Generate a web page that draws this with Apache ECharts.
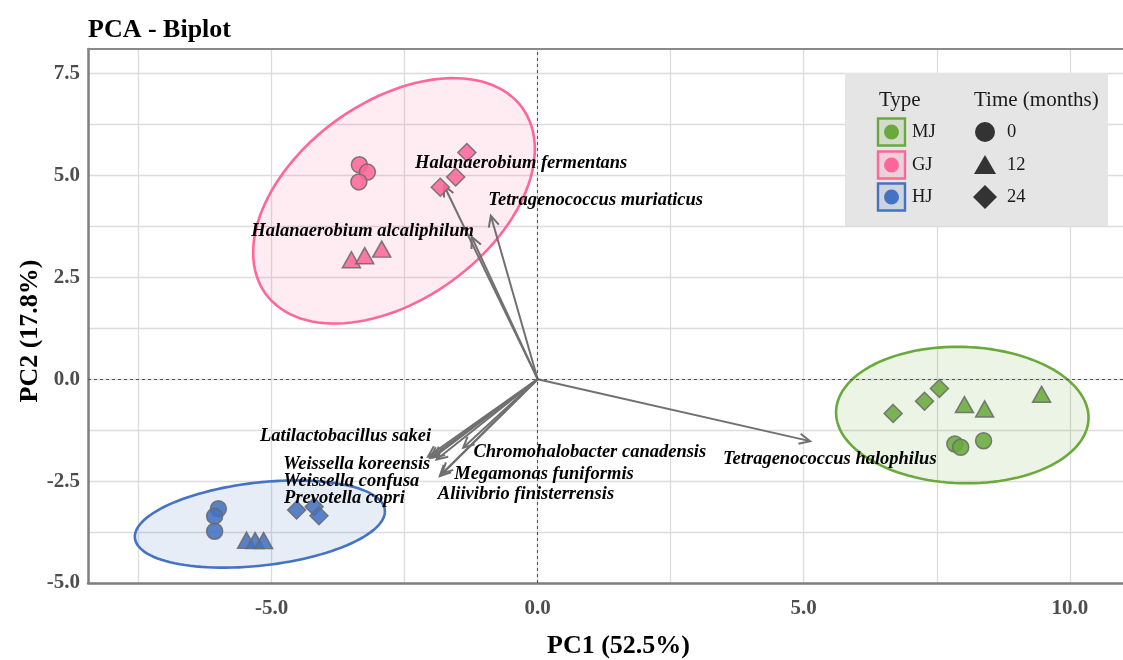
<!DOCTYPE html>
<html><head><meta charset="utf-8">
<script src="https://cdn.jsdelivr.net/npm/echarts@6/dist/echarts.min.js"></script>
<style>html,body{margin:0;padding:0;background:#fff}#c{width:1123px;height:660px}</style>
</head><body><div id="c"></div>
<script>
const SERIF = '"Liberation Serif","Times New Roman",serif';

// ---- categories ----
const groups = ['MJ', 'GJ', 'HJ'];
const groupColors = ['#6AAA3C', '#FF6699', '#4472C4'];
const timeLevels = ['0', '12', '24'];
const timeSymbols = ['circle', 'triangle', 'diamond'];

// ---- sample scores (PC1, PC2), time index per sample ----
const sampleTimeIdx = [0, 0, 0, 1, 1, 1, 2, 2, 2];
const mjPC1 = [7.84, 7.95, 8.38, 8.02, 8.40, 9.47, 6.68, 7.27, 7.55];
const mjPC2 = [-1.59, -1.67, -1.51, -0.62, -0.73, -0.37, -0.84, -0.54, -0.23];
const gjPC1 = [-3.35, -3.20, -3.36, -3.50, -3.25, -2.93, -1.33, -1.54, -1.83];
const gjPC2 = [5.26, 5.08, 4.84, 2.93, 3.03, 3.19, 5.56, 4.96, 4.71];
const hjPC1 = [-6.00, -6.07, -6.07, -5.47, -5.31, -5.15, -4.53, -4.20, -4.11];
const hjPC2 = [-3.18, -3.36, -3.73, -3.95, -3.96, -3.96, -3.21, -3.13, -3.35];

// ---- group ellipses: centre and semi-axis vectors (data units) ----
const ellCenterPC1 = [7.98, -2.70, -5.22];
const ellCenterPC2 = [-0.88, 4.375, -3.554];
const ellMajor = [[2.372, -0.091], [2.41, 2.284], [2.348, 0.348]];
const ellMinor = [[-0.038, -1.672], [1.094, -1.961], [0.088, -1.012]];

// ---- loadings (arrows) ----
const taxa = ['Halanaerobium fermentans', 'Tetragenococcus muriaticus', 'Halanaerobium alcaliphilum',
  'Tetragenococcus halophilus', 'Latilactobacillus sakei', 'Weissella koreensis', 'Weissella confusa',
  'Prevotella copri', 'Chromohalobacter canadensis', 'Megamonas funiformis', 'Aliivibrio finisterrensis'];
const loadPC1 = [-1.76, -0.88, -1.24, 5.12, -2.06, -1.90, -2.02, -1.96, -1.40, -1.84, -1.80];
const loadPC2 = [4.75, 4.01, 3.49, -1.52, -1.90, -1.97, -1.93, -1.92, -1.68, -2.38, -2.32];
// repelled label positions (data units)
const labPC1 = [-0.31, 1.09, -3.29, 5.49, -3.61, -3.40, -3.50, -3.63, 0.98, 0.12, -0.22];
const labPC2 = [5.30, 4.39, 3.63, -1.97, -1.41, -2.09, -2.50, -2.91, -1.79, -2.32, -2.83];

// ---- axes ----
const xMin = -8.45, xMax = 11.0, yMin = -5.0, yMax = 8.1;
const xTicks = [-5, 0, 5, 10];
const xGrid = [-7.5, -5, -2.5, 0, 2.5, 5, 7.5, 10];
const yTicks = [-5, -2.5, 0, 2.5, 5, 7.5];
const yGrid = [-5, -3.75, -2.5, -1.25, 0, 1.25, 2.5, 3.75, 5, 6.25, 7.5];

const scoresPC1 = [mjPC1, gjPC1, hjPC1];
const scoresPC2 = [mjPC2, gjPC2, hjPC2];

function hexA(hex, a) {
  const n = parseInt(hex.slice(1), 16);
  return `rgba(${(n >> 16) & 255},${(n >> 8) & 255},${n & 255},${a})`;
}

const chart = echarts.init(document.getElementById('c'), null, { renderer: 'canvas' });

const series = [];
// ellipses
series.push({
  type: 'custom', z: 1, silent: true,
  data: groups.map((g, i) => [ellCenterPC1[i], ellCenterPC2[i], ellMajor[i][0], ellMajor[i][1], ellMinor[i][0], ellMinor[i][1], i]),
  encode: { x: 0, y: 1 },
  renderItem: function (params, api) {
    const cx = api.value(0), cy = api.value(1);
    const ax = api.value(2), ay = api.value(3), bx = api.value(4), by = api.value(5);
    const gi = api.value(6);
    const pts = [];
    for (let k = 0; k < 120; k++) {
      const t = 2 * Math.PI * k / 120;
      pts.push(api.coord([cx + Math.cos(t) * ax + Math.sin(t) * bx, cy + Math.cos(t) * ay + Math.sin(t) * by]));
    }
    return { type: 'polygon', shape: { points: pts },
      style: { fill: hexA(groupColors[gi], 0.13), stroke: groupColors[gi], lineWidth: 2.6 } };
  }
});
// zero reference lines
series.push({
  type: 'line', data: [], z: 2, silent: true,
  markLine: { silent: true, symbol: 'none', label: { show: false },
    lineStyle: { color: '#555', width: 1.1, type: [3, 3] },
    data: [{ xAxis: 0 }, { yAxis: 0 }] }
});
// arrows
series.push({
  type: 'custom', z: 3, silent: true,
  data: taxa.map((t, i) => [loadPC1[i], loadPC2[i]]),
  encode: { x: 0, y: 1 },
  renderItem: function (params, api) {
    const o = api.coord([0, 0]);
    const t = api.coord([api.value(0), api.value(1)]);
    const ang = Math.atan2(t[1] - o[1], t[0] - o[0]);
    const L = 12, a = Math.PI / 7;
    const p1 = [t[0] - L * Math.cos(ang - a), t[1] - L * Math.sin(ang - a)];
    const p2 = [t[0] - L * Math.cos(ang + a), t[1] - L * Math.sin(ang + a)];
    return { type: 'group', children: [
      { type: 'line', shape: { x1: o[0], y1: o[1], x2: t[0], y2: t[1] }, style: { stroke: '#707070', lineWidth: 2 } },
      { type: 'polyline', shape: { points: [p1, t, p2] }, style: { stroke: '#707070', lineWidth: 2, fill: null } }
    ] };
  }
});
// points
groups.forEach((g, gi) => {
  series.push({
    type: 'scatter', name: g, z: 4,
    data: scoresPC1[gi].map((x, k) => {
      const ti = sampleTimeIdx[k];
      return { value: [x, scoresPC2[gi][k]], symbol: timeSymbols[ti],
        symbolSize: ti === 0 ? 16 : (ti === 1 ? [18, 16] : 18) };
    }),
    itemStyle: { color: groupColors[gi], opacity: 0.88, borderColor: '#6b6b6b', borderWidth: 1.5 }
  });
});
// labels
series.push({
  type: 'custom', z: 5, silent: true,
  data: taxa.map((t, i) => [labPC1[i], labPC2[i], i]),
  encode: { x: 0, y: 1 },
  renderItem: function (params, api) {
    const p = api.coord([api.value(0), api.value(1)]);
    return { type: 'text', x: p[0], y: p[1],
      style: { text: taxa[api.value(2)], fill: '#000', align: 'center', verticalAlign: 'middle',
        font: 'italic bold 18.5px ' + SERIF } };
  }
});

// legend graphic
const lgX = 845, lgY = 73;
const graphic = [
  { type: 'rect', shape: { x: lgX, y: lgY, width: 263, height: 153 }, style: { fill: '#e5e5e5' }, z: 10 },
  { type: 'text', x: 879, y: 100, style: { text: 'Type', font: '21px ' + SERIF, fill: '#1a1a1a', verticalAlign: 'middle' }, z: 11 },
  { type: 'text', x: 974, y: 100, style: { text: 'Time (months)', font: '21px ' + SERIF, fill: '#1a1a1a', verticalAlign: 'middle' }, z: 11 }
];
const rowY = [132, 165, 197];
groups.forEach((g, i) => {
  graphic.push({ type: 'rect', shape: { x: 878, y: rowY[i] - 13.5, width: 27, height: 27 },
    style: { fill: hexA(groupColors[i], 0.15), stroke: groupColors[i], lineWidth: 2.4 }, z: 11 });
  graphic.push({ type: 'circle', shape: { cx: 891.5, cy: rowY[i], r: 7.5 }, style: { fill: groupColors[i] }, z: 12 });
  graphic.push({ type: 'text', x: 912, y: rowY[i], style: { text: g, font: '18.5px ' + SERIF, fill: '#1a1a1a', verticalAlign: 'middle' }, z: 11 });
});
timeLevels.forEach((t, i) => {
  const cx = 985, cy = rowY[i];
  let el;
  if (i === 0) el = { type: 'circle', shape: { cx, cy, r: 10 } };
  else if (i === 1) el = { type: 'polygon', shape: { points: [[cx, cy - 10], [cx + 11, cy + 9], [cx - 11, cy + 9]] } };
  else el = { type: 'polygon', shape: { points: [[cx, cy - 12], [cx + 12, cy], [cx, cy + 12], [cx - 12, cy]] } };
  el.style = { fill: '#333' }; el.z = 11;
  graphic.push(el);
  graphic.push({ type: 'text', x: 1007, y: cy, style: { text: t, font: '18.5px ' + SERIF, fill: '#1a1a1a', verticalAlign: 'middle' }, z: 11 });
});

const tickFont = { fontFamily: SERIF, fontWeight: 'bold', fontSize: 21, color: '#4d4d4d' };

chart.setOption({
  animation: false,
  backgroundColor: '#fff',
  title: { text: 'PCA - Biplot', left: 83, top: 12, textStyle: { fontFamily: SERIF, fontWeight: 'bold', fontSize: 26, color: '#000' } },
  grid: { left: 88, right: 0, top: 49, bottom: 77, containLabel: false, outerBoundsMode: 'none' },
  xAxis: [{
    type: 'value', min: xMin, max: xMax, position: 'bottom',
    axisLine: { show: true, onZero: false, lineStyle: { color: '#7f7f7f', width: 2.5 } },
    axisTick: { show: false, customValues: xGrid },
    axisLabel: Object.assign({ customValues: xTicks, margin: 15, formatter: v => Number(v).toFixed(1) }, tickFont),
    splitLine: { show: true, lineStyle: { color: '#dcdcdc', width: 1.3 } },
    name: 'PC1 (52.5%)', nameLocation: 'middle', nameGap: 50, nameMoveOverlap: false,
    nameTextStyle: { fontFamily: SERIF, fontWeight: 'bold', fontSize: 26, color: '#000', padding: [0, 0, 0, 26] }
  }, {
    type: 'value', min: xMin, max: xMax, position: 'top',
    axisLine: { show: true, onZero: false, lineStyle: { color: '#8a8a8a', width: 2 } },
    axisTick: { show: false }, axisLabel: { show: false }, splitLine: { show: false }
  }],
  yAxis: {
    type: 'value', min: yMin, max: yMax,
    axisLine: { show: true, onZero: false, lineStyle: { color: '#7f7f7f', width: 2.5 } },
    axisTick: { show: false, customValues: yGrid },
    axisLabel: Object.assign({ customValues: yTicks, margin: 8, formatter: v => Number(v).toFixed(1) }, tickFont),
    splitLine: { show: true, lineStyle: { color: '#dcdcdc', width: 1.3 } },
    name: 'PC2 (17.8%)', nameLocation: 'middle', nameGap: 45, nameRotate: 90, nameMoveOverlap: false,
    nameTextStyle: { fontFamily: SERIF, fontWeight: 'bold', fontSize: 26, color: '#000', padding: [0, 30, 0, 0] }
  },
  series: series,
  graphic: graphic
});
</script>
</body></html>
